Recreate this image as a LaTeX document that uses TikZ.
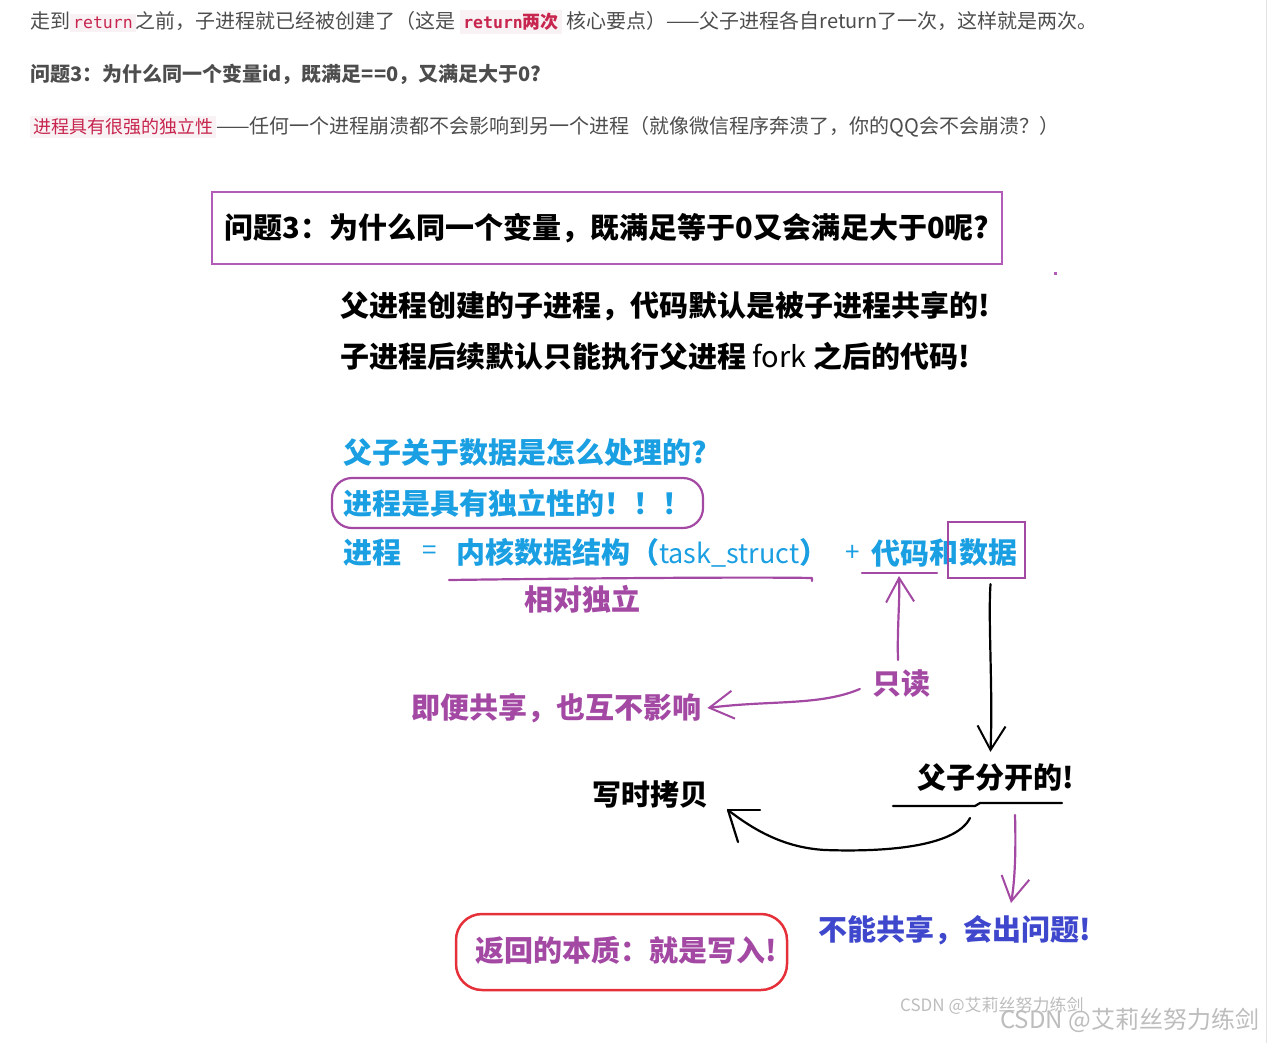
\documentclass[tikz,border=0pt]{standalone}
\usepackage{fontspec}
\setmainfont{Noto Sans CJK SC}
\newfontfamily\mono{DejaVu Sans Mono}
\usetikzlibrary{arrows.meta}
\definecolor{txtgray}{HTML}{4D4D4D}
\definecolor{codered}{HTML}{C7254E}
\definecolor{codebg}{HTML}{F9F2F4}
\definecolor{ppl}{HTML}{A349A4}
\definecolor{boxppl}{HTML}{B05CB8}
\definecolor{skyb}{HTML}{1A9FE2}
\definecolor{indig}{HTML}{3F48CC}
\definecolor{redbox}{HTML}{E5303A}
\definecolor{wmark}{HTML}{BDBDBD}
\newcommand{\codebx}[1]{{\setlength{\fboxsep}{3pt}\colorbox{codebg}{\color{codered}#1}}}
\begin{document}
\begin{tikzpicture}[x=1pt,y=-1pt,
  toptxt/.style={anchor=west, inner sep=0, text=txtgray, font=\fontsize{20}{23}\selectfont},
  big/.style={anchor=west, inner sep=0, font=\fontsize{29}{33}\selectfont\bfseries},
  hand/.style={line width=2.2pt, line cap=round, line join=round},
  barb/.style={-{Straight Barb[length=24pt,width=28pt,line width=2pt]}},
]
\useasboundingbox (0,0) rectangle (1268,1043);
\fill[white] (0,0) rectangle (1268,1043);
\draw[line width=1.5pt, draw={rgb,255:red,226;green,226;blue,226}] (1266.5,0) -- (1266.5,1043);

% top text
\node[toptxt] (t1) at (30,22) {走到\codebx{\mono\fontsize{16.5}{19}\selectfont return}之前，子进程就已经被创建了（这是 \codebx{\mono\bfseries\fontsize{16.5}{19}\selectfont return\normalfont\bfseries\fontsize{18}{20}\selectfont 两次} 核心要点）——父子进程各自return了一次，这样就是两次。};
\node[toptxt, font=\fontsize{20}{23}\selectfont\bfseries] (t2) at (30,74) {问题3：为什么同一个变量id，既满足==0，又满足大于0?};
\node[toptxt] (t3) at (30,127) {\codebx{\fontsize{18}{21}\selectfont 进程具有很强的独立性}——任何一个进程崩溃都不会影响到另一个进程（就像微信程序奔溃了，你的QQ会不会崩溃？）};

% title box
\node[draw=boxppl, line width=2.5pt, minimum width=790pt, minimum height=72pt, inner sep=0,
      font=\fontsize{29}{33}\selectfont\bfseries] (q3) at (607,228) {问题3：为什么同一个变量，既满足等于0又会满足大于0呢?};
\fill[boxppl] (1053.5,271.5) rectangle (1056.5,274.5);

\node[big] (l1) at (340,306) {父进程创建的子进程，代码默认是被子进程共享的!};
\node[big] (l2) at (340,356) {子进程后续默认只能执行父进程 {\mdseries fork} 之后的代码!};

% blue part
\node[big, text=skyb] (bq) at (343,453) {父子关于数据是怎么处理的?};
\node[draw=ppl, line width=2.2pt, rounded corners=20pt, minimum width=371pt, minimum height=50pt,
      inner sep=0, text=skyb, font=\fontsize{29}{33}\selectfont\bfseries] (ind) at (517.5,503) {进程是具有独立性的！！！};

\node[big, text=skyb] (fp) at (343,553) {进程};
\node[anchor=center, inner sep=0, text=skyb, font=\fontsize{26}{30}\selectfont] (feq) at (430,553) {=};
\node[big, text=skyb] (fk) at (456,553) {内核数据结构（{\mdseries\fontsize{27}{30}\selectfont task\_struct}）};
\node[anchor=center, inner sep=0, text=skyb, font=\fontsize{26}{30}\selectfont] (fplus) at (853,553) {+};
\node[big, text=skyb] (fdm) at (871,553) {代码};
\node[big, text=skyb, anchor=west] (fhe) at (fdm.east) {和};
\node[big, text=skyb, anchor=west] (fsj) at (fhe.east) {数据};
\node[draw=ppl, line width=2.2pt, minimum width=77pt, minimum height=56pt, inner sep=0] (sjbox) at (986.5,550) {};

\draw[hand, ppl] (449,580) .. controls (600,578) and (760,577) .. (812,578) -- (812,581);
\node[big, text=ppl, anchor=center] (xd) at (582,599) {相对独立};
\draw[hand, ppl] (862,573) -- (937,573);
\coordinate (dmline) at (899,576);

% read only
\node[big, text=ppl, anchor=center] (zd) at (901,684) {只读};
\draw[hand, ppl, barb] ([shift={(-3,-10)}]zd.north) .. controls (897,630) and (900,600) .. (dmline);
\node[big, text=ppl] (jb) at (411,708) {即便共享，也互不影响};
\draw[hand, ppl, barb] ([shift={(-12,5)}]zd.west) .. controls (820,706) and (770,700) .. ([shift={(6,0)}]jb.east);

% black arrow down
\node[big, text=black] (fz) at (917,778) {父子分开的!};
\draw[hand, black, barb] ([shift={(4,5)}]sjbox.south) .. controls (988,620) and (993,690) .. ([shift={(-5,-12)}]fz.north);
\draw[hand, black] (893,806) -- (975,806) -- (980,803) -- (1062,803);

\node[big, text=black] (xs) at (592,795) {写时拷贝};
\coordinate (cowtip) at (728,810);
\draw[hand, black] (970,818) .. controls (955,848) and (880,852) .. (825,850) .. controls (790,848) and (760,835) .. (cowtip);
\draw[hand, black] (cowtip) -- (760,810);
\draw[hand, black] (cowtip) -- (738,842);

% purple down to problem
\node[big, text=indig] (bn) at (818,930) {不能共享，会出问题!};
\draw[hand, ppl, barb] (1015,815) .. controls (1016,850) and (1015,880) .. ([shift={(-5,-12)}]bn.north -| 1016,0);

% red box
\node[draw=redbox, line width=2.5pt, rounded corners=26pt, minimum width=331pt, minimum height=76pt,
      inner sep=0] (rb) at (621.5,952) {};
\node[big, text=ppl, anchor=center] (fh) at (626,950) {返回的本质：就是写入!};

% watermarks
\node[anchor=west, inner sep=0, text=wmark, font=\fontsize{17}{20}\selectfont] (wm1) at (900,1006) {CSDN @艾莉丝努力练剑};
\node[anchor=west, inner sep=0, text=wmark, font=\fontsize{24}{28}\selectfont] (wm2) at (1000,1020) {CSDN @艾莉丝努力练剑};
\end{tikzpicture}
\end{document}
